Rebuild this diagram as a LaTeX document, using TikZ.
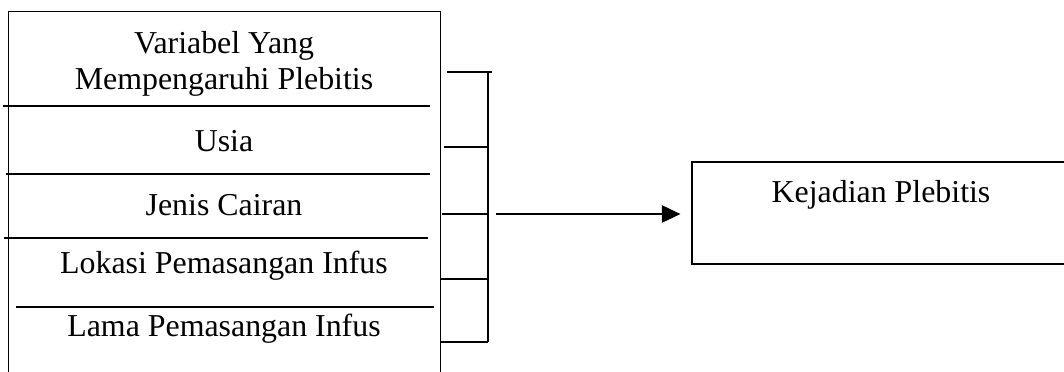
\documentclass[tikz,border=0pt]{standalone}
\usepackage{fontspec}
\setmainfont{Liberation Serif}
\usepackage{tikz}
\usetikzlibrary{positioning}
\usetikzlibrary{arrows.meta}

\begin{document}
\begin{tikzpicture}[x=0.3765pt, y=-0.3765pt, align=center,
        font=\fontsize{12}{13.2}\selectfont,
        frame/.style={draw, rectangle, line width=0.5pt, inner sep=0pt},
        item/.style={anchor=base},
        rule/.style={line width=0.4pt}]
        \useasboundingbox (0,0) rectangle (1064,371);
        \clip (0,0) rectangle (1064,371);
        % kotak variabel (bagian bawah terpotong)
        \node[frame, anchor=north west, minimum width=162.6pt, minimum height=150pt] (vars) at (8,11) {};
        \node[font=\fontsize{12}{13.6}\selectfont] (head) at (224,64) {Variabel Yang\\Mempengaruhi Plebitis};
        \node[item] (usia) at (224,151) {Usia};
        \node[item] (cairan) at (224,215) {Jenis Cairan};
        \node[item] (lokasi) at (224,273) {Lokasi Pemasangan Infus};
        \node[item] (lama) at (224,336) {Lama Pemasangan Infus};
        \draw[rule] (3,106) -- (430,106);
        \draw[rule] (6,174) -- (430,174);
        \draw[rule] (4,238) -- (428,238);
        \draw[rule] (16,307) -- (434,307);
        % kurung penghubung
        \coordinate (join) at (488,214);
        \draw[rule] (488,72) -- (488,342);
        \draw[rule] (447,72) -- (492,72);
        \foreach \y/\x in {147/444, 214/442, 279/440, 342/440}
            \draw[rule] (\x,\y) -- (488,\y);
        % kotak kejadian
        \node[frame, line width=0.7pt, anchor=north west, minimum width=143.4pt, minimum height=38.4pt] (outcome) at (691,161) {};
        \node[item] (outtext) at (881,202) {Kejadian Plebitis};
        \draw[rule, -{Triangle[length=7pt, width=6.6pt]}, shorten <=3pt, shorten >=4pt] (join) -- (join -| outcome.west);
    \end{tikzpicture}
\end{document}
